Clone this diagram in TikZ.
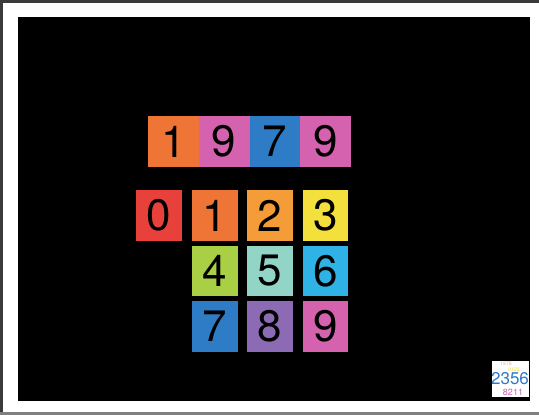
\documentclass[tikz,border=0pt]{standalone}
\usepackage{fontspec}
\setmainfont{TeX Gyre Heros}
\definecolor{cRed}{HTML}{E8403A}
\definecolor{cOrange}{HTML}{EE7535}
\definecolor{cAmber}{HTML}{F39C38}
\definecolor{cYellow}{HTML}{F4E03C}
\definecolor{cLime}{HTML}{A9CF45}
\definecolor{cMint}{HTML}{92D4C6}
\definecolor{cSky}{HTML}{2FB2E5}
\definecolor{cBlue}{HTML}{2F7CC6}
\definecolor{cPurple}{HTML}{8D6BB4}
\definecolor{cPink}{HTML}{D562AE}
\definecolor{cFrame}{HTML}{3A3A3A}
\definecolor{cFrameB}{HTML}{808080}
\begin{document}
\begin{tikzpicture}[x=1pt,y=-1pt,
  digit/.style={rectangle,inner sep=0pt,text=black,font=\fontsize{44}{44}\selectfont},
  wide/.style={digit,minimum width=50.8pt,minimum height=51pt},
  sq/.style={digit,minimum width=45.5pt,minimum height=50.5pt},
  thumb/.style={inner sep=0pt}]
\useasboundingbox (0,0) rectangle (539,415);
\fill[white] (0,0) rectangle (539,415);
% frame
\fill[cFrame] (0,0) rectangle (3,415);
\fill[cFrame] (0,0) rectangle (539,3);
\fill[cFrameB] (0,412) rectangle (539,415);
% black screen
\fill[black] (18,17) rectangle (530,401);
% year row
\node[wide,fill=cOrange] (y1) at (173.4,141.5) {1};
\node[wide,fill=cPink]   (y2) at (224.2,141.5) {9};
\node[wide,fill=cBlue]   (y3) at (275.0,141.5) {7};
\node[wide,fill=cPink]   (y4) at (325.8,141.5) {9};
% digits grid
\node[sq,fill=cRed]    (d0) at (159,215.5) {0};
\node[sq,fill=cOrange] (d1) at (215,215.5) {1};
\node[sq,fill=cAmber]  (d2) at (270,215.5) {2};
\node[sq,fill=cYellow] (d3) at (325.5,215.5) {3};
\node[sq,fill=cLime]   (d4) at (215,271) {4};
\node[sq,fill=cMint]   (d5) at (270,271) {5};
\node[sq,fill=cSky]    (d6) at (325.5,271) {6};
\node[sq,fill=cBlue]   (d7) at (215,326.5) {7};
\node[sq,fill=cPurple] (d8) at (270,326.5) {8};
\node[sq,fill=cPink]   (d9) at (325.5,326.5) {9};
% thumbnail
\fill[white] (492,361) rectangle (529,397);
\begin{scope}
\clip (492,361) rectangle (529,397);
\node[thumb,text=cOrange!60,font=\fontsize{5}{5}\selectfont] (t1) at (506,364) {1979};
\node[thumb,text=cYellow!80!cAmber,font=\fontsize{5}{5}\selectfont] (t2) at (514,369.5) {0123};
\node[thumb,text=cBlue,font=\fontsize{17}{17}\selectfont] (t3) at (510,378.5) {2356};
\node[thumb,text=cPink!70!cPurple,font=\fontsize{9}{9}\selectfont] (t4) at (513,392) {8211};
\end{scope}
\end{tikzpicture}
\end{document}
